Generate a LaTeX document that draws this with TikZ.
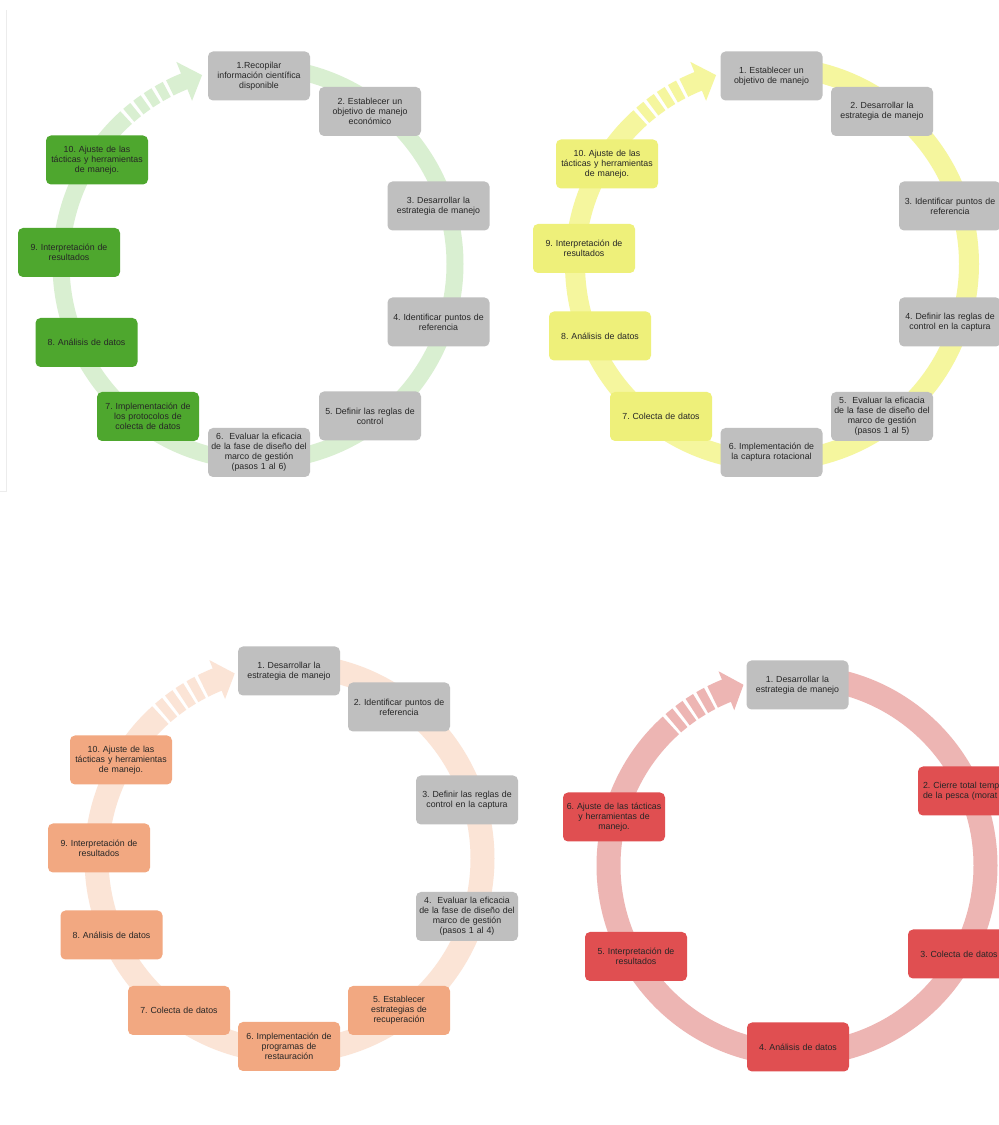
\documentclass[tikz,border=0pt]{standalone}
\usepackage{fontspec}
\setmainfont{Liberation Sans}
\usepackage{xcolor}
\frenchspacing

\definecolor{cajagris}{HTML}{BFBFBF}
\definecolor{cajaverde}{HTML}{4EA72E}
\definecolor{cajaamarilla}{HTML}{EEF07A}
\definecolor{cajanaranja}{HTML}{F2A881}
\definecolor{cajaroja}{HTML}{E04F51}
\definecolor{aroverde}{HTML}{D9EFD1}
\definecolor{aroamarillo}{HTML}{F5F69E}
\definecolor{aronaranja}{HTML}{FBE4D6}
\definecolor{arorojo}{HTML}{EDB5B3}

\begin{document}
\begin{tikzpicture}[
x=1pt, y=1pt,
paso/.style={
	rectangle, rounded corners=5pt,
	minimum width=102pt, minimum height=49pt,
	text width=99pt, inner sep=1.5pt, align=center,
	font=\fontsize{8.8}{10}\selectfont, text=black!85
},
gris/.style={paso, fill=cajagris},
verde/.style={paso, fill=cajaverde},
amarilla/.style={paso, fill=cajaamarilla},
naranja/.style={paso, fill=cajanaranja},
roja/.style={paso, fill=cajaroja}
]
\useasboundingbox[fill=white] (0,0) rectangle (999,1125);
\draw[gray!15, line width=1pt] (0,633) -- (6,633) -- (6,1115);

% aros con flecha rayada
\foreach \cx/\cy/\r/\w/\col in {258/861/197/17/aroverde, 772/861/197/20/aroamarillo,
	289.5/266.5/193/24/aronaranja, 797/259.5/188.5/24/arorojo}
{
	\begin{scope}[shift={(\cx,\cy)}, color=\col]
	\draw[line width=\w pt] (90:\r) arc[start angle=90, end angle=-228, radius=\r];
	\foreach \a in {131,127.4,123.8,120.2}
		\draw[line width=\w pt] (\a:\r) arc[start angle=\a, end angle=\a-2.6, radius=\r];
	\draw[line width=\w pt] (116.6:\r) arc[start angle=116.6, end angle=111.5, radius=\r];
	\fill (112:{\r+21}) -- (106.5:\r) -- (112:{\r-21}) -- cycle;
	\end{scope}
}

% verde
\node[gris] (g1) at (259,1049) {1.Recopilar\\información científica\\disponible};
\node[gris] (g2) at (370,1013.5) {2. Establecer un\\objetivo de manejo\\económico};
\node[gris] (g3) at (438.5,919) {3. Desarrollar la\\estrategia de manejo};
\node[gris] (g4) at (438.5,803) {4. Identificar puntos de\\referencia};
\node[gris] (g5) at (370,709) {5. Definir las reglas de\\control};
\node[gris] (g6) at (259,672.5) {6.\ \ Evaluar la eficacia\\de la fase de diseño del\\marco de gestión\\(pasos 1 al 6)};
\node[verde] (g7) at (148,708.5) {7. Implementación de\\los protocolos de\\colecta de datos};
\node[verde] (g8) at (86.5,782.5) {8. Análisis de datos};
\node[verde] (g9) at (69,872.5) {9. Interpretación de\\resultados};
\node[verde] (g10) at (97,965) {10. Ajuste de las\\tácticas y herramientas\\de manejo.};

% amarillo
\node[gris] (y1) at (771.5,1049) {1. Establecer un\\objetivo de manejo};
\node[gris] (y2) at (882,1013.5) {2. Desarrollar la\\estrategia de manejo};
\node[gris] (y3) at (950,919) {3. Identificar puntos de\\referencia};
\node[gris] (y4) at (950,803) {4. Definir las reglas de\\control en la captura};
\node[gris] (y5) at (882,708.5) {5.\ \ Evaluar la eficacia\\de la fase de diseño del\\marco de gestión\\(pasos 1 al 5)};
\node[gris] (y6) at (771.5,672.5) {6. Implementación de\\la captura rotacional};
\node[amarilla] (y7) at (661,708.5) {7. Colecta de datos};
\node[amarilla] (y8) at (600,789) {8. Análisis de datos};
\node[amarilla] (y9) at (584,876.5) {9. Interpretación de\\resultados};
\node[amarilla] (y10) at (607,961) {10. Ajuste de las\\tácticas y herramientas\\de manejo.};

% naranja
\node[gris] (o1) at (289,454) {1. Desarrollar la\\estrategia de manejo};
\node[gris] (o2) at (399,418) {2. Identificar puntos de\\referencia};
\node[gris] (o3) at (467,325) {3. Definir las reglas de\\control en la captura};
\node[gris] (o4) at (467,208.5) {4.\ \ Evaluar la eficacia\\de la fase de diseño del\\marco de gestión\\(pasos 1 al 4)};
\node[naranja] (o5) at (399,114.5) {5. Establecer\\estrategias de\\recuperación};
\node[naranja] (o6) at (289,78.5) {6. Implementación de\\programas de\\restauración};
\node[naranja] (o7) at (179,114.5) {7. Colecta de datos};
\node[naranja] (o8) at (111.5,190) {8. Análisis de datos};
\node[naranja] (o9) at (99,277) {9. Interpretación de\\resultados};
\node[naranja] (o10) at (121,365) {10. Ajuste de las\\tácticas y herramientas\\de manejo.};

% rojo
\node[gris] (r1) at (797.5,440) {1. Desarrollar la\\estrategia de manejo};
\node[roja, text width=92pt, align=left] (r2) at (969,334) {2. Cierre total temp\\de la pesca (morat};
\node[roja] (r3) at (959,171) {3. Colecta de datos};
\node[roja] (r4) at (798,78) {4. Análisis de datos};
\node[roja] (r5) at (636,168.5) {5. Interpretación de\\resultados};
\node[roja] (r6) at (614,308) {6. Ajuste de las tácticas\\y herramientas de\\manejo.};
\end{tikzpicture}
\end{document}
